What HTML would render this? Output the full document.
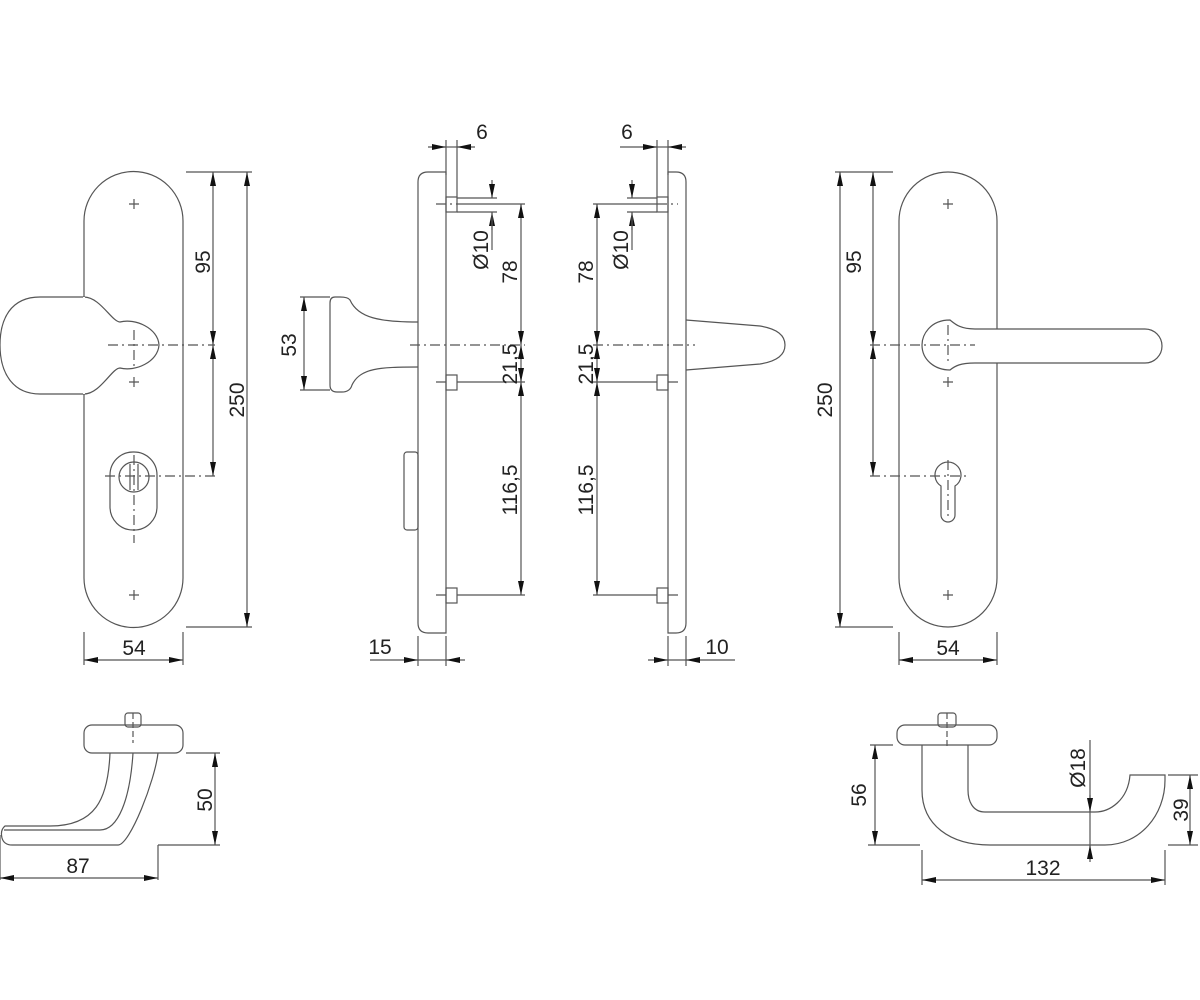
<!DOCTYPE html>
<html><head><meta charset="utf-8"><style>
html,body{margin:0;padding:0;background:#fff}
svg{display:block}
text{font-family:"Liberation Sans",sans-serif;font-size:21px;fill:#222}
</style></head><body>
<svg width="1200" height="1000" viewBox="0 0 1200 1000" xmlns="http://www.w3.org/2000/svg">
<defs>
<marker id="a" viewBox="0 0 14 6" refX="14" refY="3" markerWidth="14" markerHeight="6" markerUnits="userSpaceOnUse" orient="auto-start-reverse"><path d="M0,0L14,3L0,6z" fill="#111"/></marker>
</defs>
<g fill="none" stroke="#555" stroke-width="1.2">
<path d="M84,221 A49.5,49.5 0 0 1 183,221 L183,578 A49.5,49.5 0 0 1 84,578 Z"/>
<path d="M129,204h10M134,199v10M129,382h10M134,377v10M129,595h10M134,590v10"/>
<path d="M84,297 L40,297 C10,297 0,320 0,345 C0,372 12,394 40,394 L84,394 C100,394 112,368 120,368 C135,372 158,362 159,345 C158,328 135,318 120,322 C112,322 100,297 84,297" fill="#fff"/>
<path d="M84,297v97" stroke="#fff" stroke-width="2"/>
<path d="M108,345H215M134,330v40" stroke-dasharray="10,4,2,4"/>
<rect x="110" y="452" width="47" height="78" rx="23"/>
<circle cx="134" cy="477" r="15"/>
<path d="M130,464v26M138,464v26"/>
<path d="M105,476H215M134,455v88" stroke-dasharray="10,4,2,4"/>
<path d="M186,172H252M186,627H252M84,632v33M183,632v33"/>
<path d="M213,172V345" marker-start="url(#a)" marker-end="url(#a)"/>
<path d="M213,345V476" marker-start="url(#a)" marker-end="url(#a)"/>
<path d="M247,172V627" marker-start="url(#a)" marker-end="url(#a)"/>
<path d="M84,660H183" marker-start="url(#a)" marker-end="url(#a)"/>

<path d="M446,172H428Q418,172 418,182V623Q418,633 428,633H446Z"/>
<path d="M446,140v35M446,636v30M418,636v30"/>
<path d="M418,322 C380,322 358,318 350,300 Q348,297 340,297 L335,297 Q330,297 330,303 L330,385 Q330,392 337,392 L342,392 Q350,392 352,385 C360,368 380,367 418,367"/>
<rect x="404" y="452" width="14" height="78" rx="3"/>
<rect x="446" y="197" width="11" height="15"/><rect x="446" y="375" width="11" height="15"/><rect x="446" y="588" width="11" height="15"/>
<path d="M457,140v57M457,198H497M457,212H497"/>
<path d="M410,345H525M436,204H457M436,382H446M436,595H446" stroke-dasharray="10,4,2,4"/>
<path d="M457,204H525M457,382H525M457,595H525M300,297H330M300,390H330"/>
<path d="M428,147H446" marker-end="url(#a)"/><path d="M475,147H457" marker-end="url(#a)"/><path d="M446,147H457"/>
<path d="M492,180V198" marker-end="url(#a)"/><path d="M492,230V212" marker-end="url(#a)"/><path d="M492,212V250"/>
<path d="M521,204V345" marker-start="url(#a)" marker-end="url(#a)"/>
<path d="M521,345V382" marker-start="url(#a)" marker-end="url(#a)"/>
<path d="M521,382V595" marker-start="url(#a)" marker-end="url(#a)"/>
<path d="M304,297V390" marker-start="url(#a)" marker-end="url(#a)"/>
<path d="M370,660H418" marker-end="url(#a)"/><path d="M465,660H446" marker-end="url(#a)"/><path d="M418,660H446"/>

<path d="M668,172H676Q686,172 686,182V623Q686,633 676,633H668Z"/>
<path d="M668,140v35M668,636v30M686,636v30"/>
<path d="M686,320 L760,326 Q785,330 785,345 Q785,360 760,364 L686,370"/>
<rect x="657" y="197" width="11" height="15"/><rect x="657" y="375" width="11" height="15"/><rect x="657" y="588" width="11" height="15"/>
<path d="M657,140v57M627,198H657M627,212H657"/>
<path d="M593,345H695M657,204H678M668,382H678M668,595H678" stroke-dasharray="10,4,2,4"/>
<path d="M593,204H657M593,382H657M593,595H657"/>
<path d="M620,147H657" marker-end="url(#a)"/><path d="M686,147H668" marker-end="url(#a)"/><path d="M657,147H668"/>
<path d="M632,180V198" marker-end="url(#a)"/><path d="M632,230V212" marker-end="url(#a)"/><path d="M632,212V250"/>
<path d="M597,204V345" marker-start="url(#a)" marker-end="url(#a)"/>
<path d="M597,345V382" marker-start="url(#a)" marker-end="url(#a)"/>
<path d="M597,382V595" marker-start="url(#a)" marker-end="url(#a)"/>
<path d="M648,660H668" marker-end="url(#a)"/><path d="M735,660H686" marker-end="url(#a)"/><path d="M668,660H686"/>

<path d="M899,221 A49,49 0 0 1 997,221 L997,578 A49,49 0 0 1 899,578 Z"/>
<path d="M943,204h10M948,199v10M943,382h10M948,377v10M943,595h10M948,590v10"/>
<path d="M950,320 C930,320 922,335 922,345 C922,360 935,370 950,370 C955,366 960,363 975,363 L1145,363 A17,17 0 0 0 1145,329 L975,329 C960,329 955,324 950,320Z" fill="#fff"/>
<path d="M870,345H975M948,325v40" stroke-dasharray="10,4,2,4"/>
<path d="M941,486 A13,13 0 1 1 955,486 L955,515 A7,7 0 0 1 941,515 Z"/>
<path d="M870,476H968M948,460v60" stroke-dasharray="10,4,2,4"/>
<path d="M835,172H893M835,627H893M899,632v33M997,632v33"/>
<path d="M873,172V345" marker-start="url(#a)" marker-end="url(#a)"/>
<path d="M873,345V476" marker-start="url(#a)" marker-end="url(#a)"/>
<path d="M840,172V627" marker-start="url(#a)" marker-end="url(#a)"/>
<path d="M899,660H997" marker-start="url(#a)" marker-end="url(#a)"/>

<rect x="125" y="713" width="16" height="14" rx="3"/>
<rect x="84" y="725" width="99" height="28" rx="8"/>
<path d="M133,713v30" stroke-dasharray="6,3"/>
<path d="M110,753 C108,800 95,826 50,826 L5,826 Q0,830 2,838 Q4,845 12,845 L118,845 C130,845 155,780 158,753"/>
<path d="M133,753 C130,800 118,830 100,830 L4,830"/>
<path d="M186,753H220M158,845H220M158,845v35M0,835v45"/>
<path d="M215,753V845" marker-start="url(#a)" marker-end="url(#a)"/>
<path d="M0,878H158" marker-start="url(#a)" marker-end="url(#a)"/>

<rect x="938" y="713" width="18" height="14" rx="3"/>
<rect x="897" y="725" width="100" height="20" rx="8"/>
<path d="M947,713v36" stroke-dasharray="6,3"/>
<path d="M922,745 L922,790 C922,825 950,845 990,845 L1105,845 C1140,845 1165,815 1165,780 L1165,775 L1130,775 C1128,800 1110,812 1095,812 L985,812 C972,812 968,800 968,790 L968,745"/>
<path d="M870,745H893M868,845H920M1168,775H1198M1168,845H1198M922,850v35M1165,850v35M1090,740v70"/>
<path d="M875,745V845" marker-start="url(#a)" marker-end="url(#a)"/>
<path d="M1190,775V845" marker-start="url(#a)" marker-end="url(#a)"/>
<path d="M922,880H1165" marker-start="url(#a)" marker-end="url(#a)"/>
<path d="M1090,795V812" marker-end="url(#a)"/><path d="M1090,862V845" marker-end="url(#a)"/><path d="M1090,812V845"/>
</g>
<g>
<text x="134" y="655" text-anchor="middle">54</text>
<text x="948" y="655" text-anchor="middle">54</text>
<text x="380" y="654" text-anchor="middle">15</text>
<text x="717" y="654" text-anchor="middle">10</text>
<text x="482" y="139" text-anchor="middle">6</text>
<text x="627" y="139" text-anchor="middle">6</text>
<text x="78" y="873" text-anchor="middle">87</text>
<text x="1043" y="875" text-anchor="middle">132</text>
<text transform="translate(210,262) rotate(-90)" text-anchor="middle">95</text>
<text transform="translate(244,400) rotate(-90)" text-anchor="middle">250</text>
<text transform="translate(861,262) rotate(-90)" text-anchor="middle">95</text>
<text transform="translate(832,400) rotate(-90)" text-anchor="middle">250</text>
<text transform="translate(296,345) rotate(-90)" text-anchor="middle">53</text>
<text transform="translate(488,250) rotate(-90)" text-anchor="middle">Ø10</text>
<text transform="translate(628,250) rotate(-90)" text-anchor="middle">Ø10</text>
<text transform="translate(517,272) rotate(-90)" text-anchor="middle">78</text>
<text transform="translate(517,364) rotate(-90)" text-anchor="middle">21,5</text>
<text transform="translate(517,490) rotate(-90)" text-anchor="middle">116,5</text>
<text transform="translate(593,272) rotate(-90)" text-anchor="middle">78</text>
<text transform="translate(593,364) rotate(-90)" text-anchor="middle">21,5</text>
<text transform="translate(593,490) rotate(-90)" text-anchor="middle">116,5</text>
<text transform="translate(212,800) rotate(-90)" text-anchor="middle">50</text>
<text transform="translate(866,795) rotate(-90)" text-anchor="middle">56</text>
<text transform="translate(1188,810) rotate(-90)" text-anchor="middle">39</text>
<text transform="translate(1085,768) rotate(-90)" text-anchor="middle">Ø18</text>
</g>
</svg>
</body></html>
